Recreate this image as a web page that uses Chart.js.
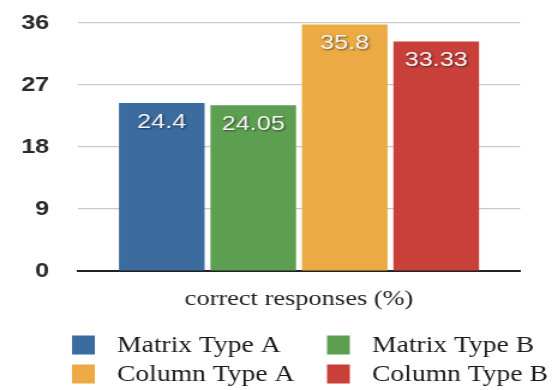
<!DOCTYPE html>
<html>
<head>
<meta charset="utf-8">
<script src="https://cdn.jsdelivr.net/npm/chart.js@4/dist/chart.umd.min.js"></script>
<style>
  html, body { margin: 0; padding: 0; background: #fff; }
  #wrap { width: 463px; height: 390px; transform: scaleX(1.2); transform-origin: 0 0; }
</style>
</head>
<body>
<div id="wrap"><canvas id="c" width="463" height="390"></canvas></div>
<script>
// Category shown under the bars
const categories = ['correct responses (%)'];
// One bar per response format
const seriesNames = ['Matrix Type A', 'Matrix Type B', 'Column Type A', 'Column Type B'];
const seriesValues = [24.4, 24.05, 35.8, 33.33];
const seriesColors = ['#3b6b9f', '#5d9f50', '#ecaa45', '#c93f3a'];
// Value axis ticks
const yTicks = [0, 9, 18, 27, 36];

const sansFont = "'Liberation Sans', Arial, sans-serif";
const serifFont = "'Liberation Serif', 'Times New Roman', serif";

// White value labels near the top of each bar
const valueLabels = {
  id: 'valueLabels',
  afterDatasetsDraw(chart) {
    const ctx = chart.ctx;
    ctx.save();
    ctx.font = '21px ' + sansFont;
    ctx.textAlign = 'center';
    ctx.textBaseline = 'middle';
    ctx.fillStyle = '#f6f6f6';
    ctx.shadowColor = 'rgba(0,0,0,0.55)';
    ctx.shadowBlur = 2;
    ctx.shadowOffsetX = 1;
    ctx.shadowOffsetY = 1;
    chart.data.datasets.forEach((ds, i) => {
      const bar = chart.getDatasetMeta(i).data[0];
      ctx.fillText(String(ds.data[0]), bar.x, bar.y + 19);
    });
    ctx.restore();
  }
};

// Two-column legend under the axis
const gridLegend = {
  id: 'gridLegend',
  afterDraw(chart) {
    const ctx = chart.ctx;
    const cols = [60, 272.5];
    const rows = [345, 374];
    ctx.save();
    ctx.font = '23px ' + serifFont;
    ctx.textAlign = 'left';
    ctx.textBaseline = 'middle';
    chart.data.datasets.forEach((ds, i) => {
      const x = cols[i % 2];
      const y = rows[Math.floor(i / 2)];
      ctx.fillStyle = ds.backgroundColor;
      ctx.fillRect(x, y - 9.5, 19, 19);
      ctx.fillStyle = '#1a1a1a';
      ctx.fillText(ds.label, x + 37.5, y + 1);
    });
    ctx.restore();
  }
};

new Chart(document.getElementById('c'), {
  type: 'bar',
  data: {
    labels: categories,
    datasets: seriesNames.map((name, i) => ({
      label: name,
      data: [seriesValues[i]],
      backgroundColor: seriesColors[i],
      borderWidth: 0
    }))
  },
  options: {
    responsive: false,
    animation: false,
    devicePixelRatio: 1,
    categoryPercentage: 0.828,
    barPercentage: 0.936,
    layout: { padding: { left: 0, right: 29.7, top: 23, bottom: 0 } },
    plugins: {
      legend: { display: false },
      tooltip: { enabled: false }
    },
    scales: {
      x: {
        grid: { display: false, drawTicks: false },
        border: { display: true, color: '#222', width: 2 },
        ticks: {
          color: '#222',
          padding: 15,
          font: { family: serifFont, size: 22 }
        },
        afterFit(scale) { scale.height = 119; }
      },
      y: {
        min: yTicks[0],
        max: yTicks[yTicks.length - 1],
        afterBuildTicks(scale) { scale.ticks = yTicks.map(v => ({ value: v })); },
        grid: {
          drawTicks: false,
          color: ctx => ctx.tick && ctx.tick.value === 0 ? 'rgba(0,0,0,0)' : '#c9c9c9',
          lineWidth: 1.2
        },
        border: { display: false },
        ticks: {
          color: '#2a2a2a',
          padding: 24,
          font: { family: sansFont, size: 21, weight: 'bold' }
        },
        afterFit(scale) {
          scale.width = 65;
          scale.paddingTop = 0;
          scale.paddingBottom = 0;
        }
      }
    }
  },
  plugins: [valueLabels, gridLegend]
});
</script>
</body>
</html>
